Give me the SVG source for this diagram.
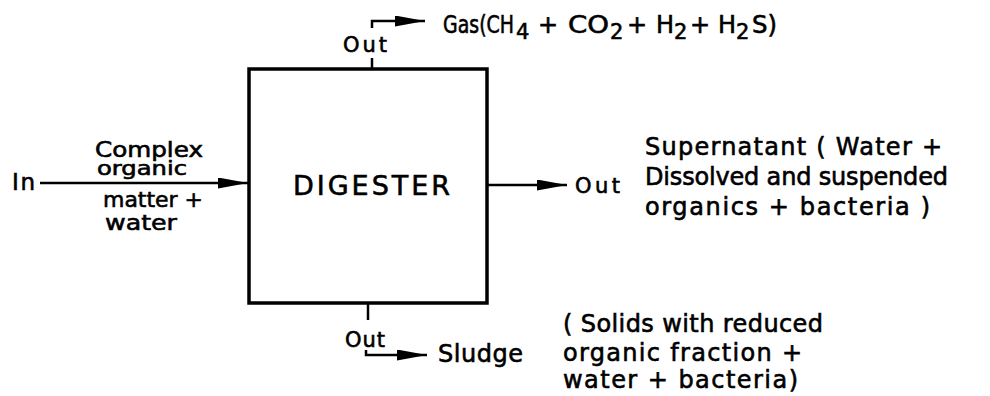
<svg xmlns="http://www.w3.org/2000/svg" width="990" height="396" viewBox="0 0 990 396">
<style>
text { font-family: "DejaVu Sans", "Liberation Sans", sans-serif; fill: #000; stroke: #000; stroke-width: 0.6; }
.out { font-size: 21px; }
.line { stroke: #000; stroke-width: 2.5; fill: none; }
.box { stroke: #000; stroke-width: 3.5; fill: #fff; }
</style>
<defs>
<marker id="ah" markerUnits="userSpaceOnUse" markerWidth="32" markerHeight="12" refX="30" refY="5.5" orient="auto">
<path d="M0,0 L30,5.5 L0,11 z" fill="#000"/>
</marker>
</defs>
<rect width="990" height="396" fill="#fff"/>
<g id="connectors">
<path class="line" d="M40,183 L248,183" marker-end="url(#ah)"/>
<path class="line" d="M487,185 L567,185" marker-end="url(#ah)"/>
<path class="line" d="M372,68 L372,58"/>
<path class="line" d="M372,28 L372,21 L425,21" marker-end="url(#ah)"/>
<path class="line" d="M368,303 L368,320"/>
<path class="line" d="M366,350 L366,355 L427,355" marker-end="url(#ah)"/>
</g>
<g id="digester">
<rect class="box" x="249" y="69" width="238" height="234"/>
<text x="293" y="195" font-size="27" textLength="157">DIGESTER</text>
</g>
<g id="input">
<text x="12" y="190" font-size="23" textLength="23">In</text>
<text x="95" y="157" font-size="21" textLength="108" lengthAdjust="spacingAndGlyphs">Complex</text>
<text x="97" y="175" font-size="19" textLength="90" lengthAdjust="spacingAndGlyphs">organic</text>
<text x="103" y="207" font-size="22" textLength="100" lengthAdjust="spacingAndGlyphs">matter +</text>
<text x="105" y="230" font-size="22" textLength="72" lengthAdjust="spacingAndGlyphs">water</text>
</g>
<g id="gas">
<text class="out" x="343" y="52" textLength="44">Out</text>
<text font-size="24">
<tspan x="443" y="33" textLength="71" lengthAdjust="spacingAndGlyphs">Gas(CH</tspan>
<tspan x="516" y="39" font-size="21">4</tspan>
<tspan x="538" y="33">+</tspan>
<tspan x="568" y="33" textLength="41" lengthAdjust="spacingAndGlyphs">CO</tspan>
<tspan x="610" y="39" font-size="21">2</tspan>
<tspan x="627" y="33">+</tspan>
<tspan x="656" y="33">H</tspan>
<tspan x="674" y="39" font-size="21">2</tspan>
<tspan x="690" y="33">+</tspan>
<tspan x="718" y="33">H</tspan>
<tspan x="736" y="39" font-size="21">2</tspan>
<tspan x="752" y="33" textLength="25" lengthAdjust="spacingAndGlyphs">S)</tspan>
</text>
</g>
<g id="supernatant">
<text class="out" x="575" y="193" textLength="45">Out</text>
<text x="645" y="155" font-size="24" textLength="297">Supernatant ( Water +</text>
<text x="645" y="185" font-size="24" textLength="303">Dissolved and suspended</text>
<text x="645" y="215" font-size="24" textLength="285">organics + bacteria )</text>
</g>
<g id="sludge">
<text class="out" x="345" y="347" textLength="40">Out</text>
<text x="438" y="362" font-size="24" textLength="85">Sludge</text>
<text x="563" y="332" font-size="24" textLength="260">( Solids with reduced</text>
<text x="563" y="361" font-size="24" textLength="239">organic fraction +</text>
<text x="563" y="388" font-size="24" textLength="235">water + bacteria)</text>
</g>
</svg>
